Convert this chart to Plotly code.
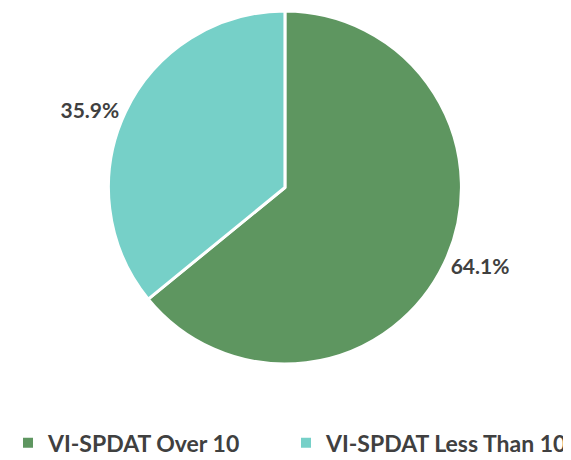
import plotly.graph_objects as go

categories = ["VI-SPDAT Over 10", "VI-SPDAT Less Than 10"]
values = [64.1, 35.9]
colors = ["#5E9660", "#76D0C8"]

fig = go.Figure(go.Pie(
    labels=categories,
    values=values,
    marker=dict(colors=colors, line=dict(color="white", width=3)),
    sort=False,
    direction="clockwise",
    rotation=0,
    textposition="outside",
    texttemplate="%{percent:.1%}",
    textfont=dict(family="Lato", size=21, color="#404040", weight="bold"),
    outsidetextfont=dict(family="Lato", size=21, color="#404040", weight="bold"),
    domain=dict(x=[0.174, 0.796], y=[0.1422, 0.9928]),
    automargin=False,
    showlegend=True,
))

fig.update_layout(
    width=571, height=460,
    margin=dict(l=0, r=0, t=0, b=45),
    paper_bgcolor="white",
    plot_bgcolor="white",
    legend=dict(
        orientation="h", x=0, xanchor="left", y=-0.048, yanchor="middle",
        font=dict(family="Lato", size=23, color="#404040", weight="bold"),
        itemsizing="constant",
        entrywidth=233, entrywidthmode="pixels",
    ),
)

fig.write_html("out.html")
